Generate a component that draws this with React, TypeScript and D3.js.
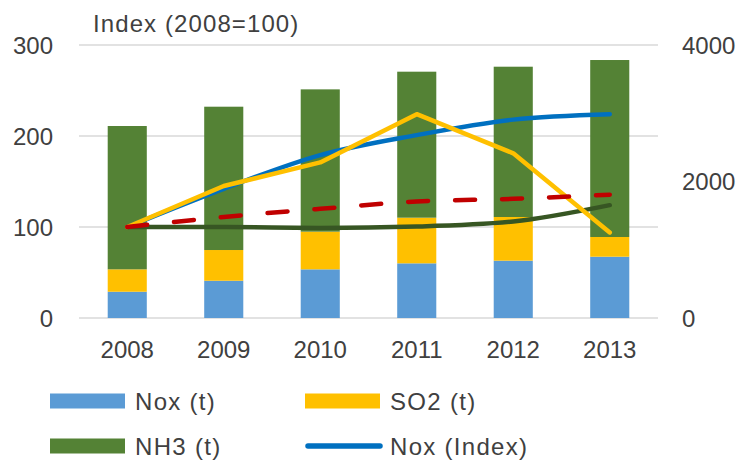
import React from 'react';
import * as d3 from 'd3';

const years = ['2008', '2009', '2010', '2011', '2012', '2013'];
const noxT = [385, 546, 713, 801, 840, 898];
const so2T = [328, 450, 552, 669, 640, 289];
const nh3T = [2100, 2100, 2085, 2139, 2202, 2593];
const noxIdx = [100, 142, 179, 201, 218, 224];
const so2Idx = [100, 145, 171, 224, 181, 94];
const nh3Idx = [100, 100, 99, 100.5, 106, 124];
const totalIdx = [100, 111, 120, 128, 131, 135.5];
const leftTicks = [0, 100, 200, 300];
const rightTicks = [0, 2000, 4000];
const barKeys = ['Nox (t)', 'SO2 (t)', 'NH3 (t)'];
const barColors = ['#5B9BD5', '#FFC000', '#548235'];

const W = 737;
const H = 460;
const X0 = 79;
const X1 = 658;
const Y0 = 318;
const Y1 = 45;
const FONT = '"Liberation Sans", Arial, sans-serif';
const TXT = '#404040';

export default function App() {
  const x = d3.scaleBand<string>().domain(years).range([X0, X1]).paddingInner(0.595).paddingOuter(0.2975);
  const yL = d3.scaleLinear().domain([0, 300]).range([Y0, Y1]);
  const yR = d3.scaleLinear().domain([0, 4000]).range([Y0, Y1]);
  const cx = (i: number) => (x(years[i]) as number) + x.bandwidth() / 2;

  const rows = years.map((y, i) => ({ year: y, 'Nox (t)': noxT[i], 'SO2 (t)': so2T[i], 'NH3 (t)': nh3T[i] }));
  const stacked = d3.stack<any>().keys(barKeys)(rows);

  const smooth = d3.line<number>().x((_, i) => cx(i)).y((v) => yL(v)).curve(d3.curveMonotoneX);
  const straight = d3.line<number>().x((_, i) => cx(i)).y((v) => yL(v));

  const lines = [
    { data: noxIdx, color: '#0070C0', gen: smooth, dash: undefined },
    { data: nh3Idx, color: '#375623', gen: smooth, dash: undefined },
    { data: so2Idx, color: '#FFC000', gen: straight, dash: undefined },
    { data: totalIdx, color: '#C00000', gen: smooth, dash: '20 27' },
  ];

  const legend = [
    { label: 'Nox (t)', color: barColors[0], type: 'rect', lx: 50, ly: 401 },
    { label: 'SO2 (t)', color: barColors[1], type: 'rect', lx: 305, ly: 401 },
    { label: 'NH3 (t)', color: barColors[2], type: 'rect', lx: 50, ly: 446 },
    { label: 'Nox (Index)', color: '#0070C0', type: 'line', lx: 305, ly: 446 },
  ];

  return (
    <svg width={W} height={H} style={{ position: 'absolute', left: 0, top: 0, background: '#fff' }} fontFamily={FONT}>
      <rect x={0} y={0} width={W} height={H} fill="#fff" />
      {leftTicks.map((t) => (
        <line key={'g' + t} x1={X0} x2={X1} y1={yL(t)} y2={yL(t)} stroke="#D9D9D9" strokeWidth={1.5} />
      ))}
      {stacked.map((s, si) =>
        s.map((d, i) => (
          <rect
            key={si + '-' + i}
            x={x(years[i])}
            width={x.bandwidth()}
            y={yR(d[1])}
            height={yR(d[0]) - yR(d[1])}
            fill={barColors[si]}
          />
        ))
      )}
      {lines.map((l, li) => (
        <path
          key={'l' + li}
          d={l.gen(l.data) || ''}
          fill="none"
          stroke={l.color}
          strokeWidth={4.5}
          strokeLinecap="round"
          strokeLinejoin="round"
          strokeDasharray={l.dash}
        />
      ))}
      {leftTicks.map((t) => (
        <text key={'lt' + t} x={53} y={yL(t) + 8.5} textAnchor="end" fontSize={24} fill={TXT}>
          {t}
        </text>
      ))}
      {rightTicks.map((t) => (
        <text key={'rt' + t} x={682} y={yR(t) + 8.5} textAnchor="start" fontSize={24} fill={TXT}>
          {t}
        </text>
      ))}
      {years.map((y, i) => (
        <text key={'x' + y} x={cx(i)} y={358} textAnchor="middle" fontSize={24} fill={TXT}>
          {y}
        </text>
      ))}
      <text x={93} y={32} fontSize={24} fill={TXT} letterSpacing={1.1}>
        Index (2008=100)
      </text>
      {legend.map((g) => (
        <g key={g.label}>
          {g.type === 'rect' ? (
            <rect x={g.lx} y={g.ly - 7.5} width={75} height={15} fill={g.color} />
          ) : (
            <line x1={g.lx + 3} x2={g.lx + 75} y1={g.ly} y2={g.ly} stroke={g.color} strokeWidth={5.5} strokeLinecap="round" />
          )}
          <text x={g.lx + 85} y={g.ly + 8.5} fontSize={24} fill={TXT} letterSpacing={1.3}>
            {g.label}
          </text>
        </g>
      ))}
    </svg>
  );
}
